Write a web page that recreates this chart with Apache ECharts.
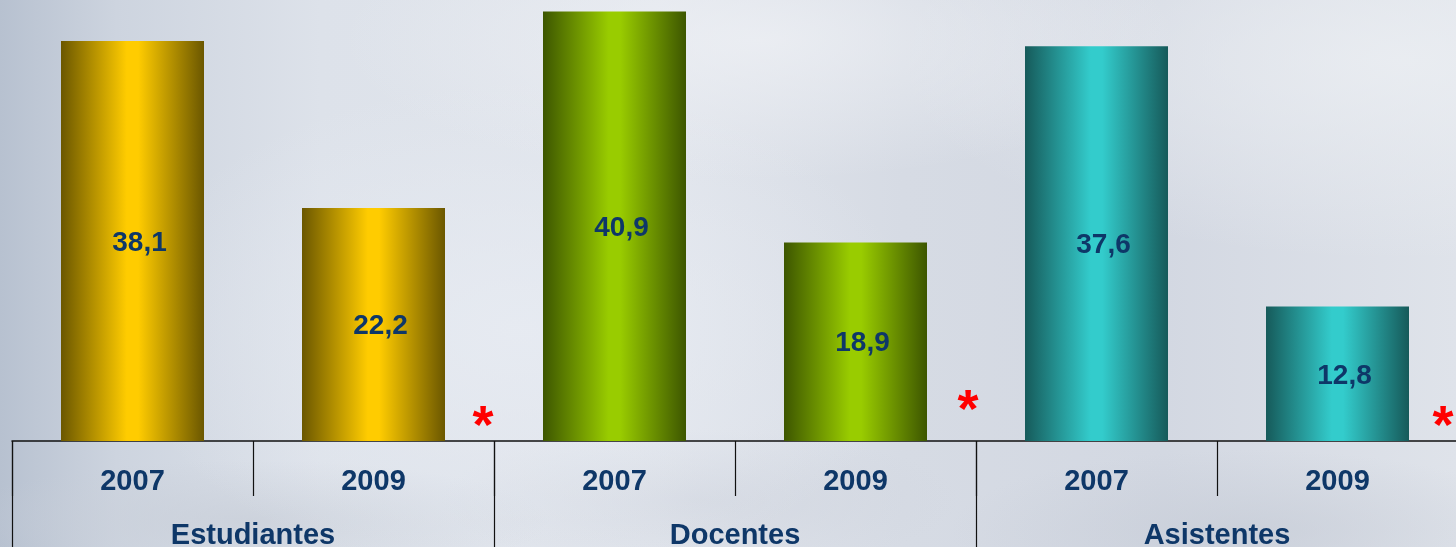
<!DOCTYPE html>
<html>
<head>
<meta charset="utf-8">
<script src="https://cdn.jsdelivr.net/npm/echarts@6/dist/echarts.min.js"></script>
<style>
  html, body { margin: 0; padding: 0; }
  body {
    width: 1456px; height: 547px; overflow: hidden;
    background:
      radial-gradient(ellipse 420px 140px at 760px 40px, rgba(240,242,246,0.7), rgba(240,242,246,0) 100%),
      radial-gradient(ellipse 500px 200px at 1400px 60px, rgba(236,239,243,0.8), rgba(236,239,243,0) 100%),
      radial-gradient(ellipse 400px 250px at 520px 330px, rgba(232,236,243,0.8), rgba(232,236,243,0) 100%),
      radial-gradient(ellipse 300px 60px at 250px 520px, rgba(200,206,216,0.7), rgba(200,206,216,0) 100%),
      radial-gradient(ellipse 260px 70px at 700px 500px, rgba(205,210,220,0.6), rgba(205,210,220,0) 100%),
      radial-gradient(ellipse 300px 80px at 1250px 530px, rgba(195,201,212,0.6), rgba(195,201,212,0) 100%),
      linear-gradient(to right, #b7c1d0 0%, #cdd4df 8%, #dde2ea 22%, #e1e5ec 45%, #d6dbe4 62%, #d3d8e2 80%, #dfe3ea 100%);
  }
  #chart { width: 1456px; height: 547px; }
</style>
</head>
<body>
<div id="chart"></div>
<script>
// ---- data ----
const groups = ['Estudiantes', 'Docentes', 'Asistentes'];
const years = ['2007', '2009'];
const values = [38.1, 22.2, 40.9, 18.9, 37.6, 12.8];
const groupDark = ['#6b5700', '#3d5600', '#165a5a'];
const groupBright = ['#ffcc00', '#99cc00', '#33cccc'];
const asterisk = '*';

const yearCats = [];
groups.forEach(() => years.forEach(y => yearCats.push(y)));

function grad(i) {
  return {
    type: 'linear', x: 0, y: 0, x2: 1, y2: 0,
    colorStops: [
      { offset: 0, color: groupDark[i] },
      { offset: 0.46, color: groupBright[i] },
      { offset: 0.54, color: groupBright[i] },
      { offset: 1, color: groupDark[i] }
    ]
  };
}

const barData = values.map((v, k) => ({
  value: v,
  itemStyle: { color: grad(Math.floor(k / years.length)) }
}));

const FONT = '"Liberation Sans", Arial, sans-serif';
const NAVY = '#0e3768';

const chart = echarts.init(document.getElementById('chart'), null, { renderer: 'canvas' });
chart.setOption({
  backgroundColor: 'transparent',
  animation: false,
  grid: { left: 12, top: 0, width: 1446, bottom: 106, containLabel: false, outerBoundsMode: 'none' },
  xAxis: [
    {
      type: 'category', data: yearCats, position: 'bottom',
      axisLine: { show: true, lineStyle: { color: '#111', width: 1.5 } },
      axisTick: { show: true, length: 55, interval: 0, lineStyle: { color: '#111', width: 1.2 } },
      axisLabel: { interval: 0, margin: 26, color: NAVY, fontSize: 29, fontWeight: 'bold', fontFamily: FONT }
    },
    {
      type: 'category', data: groups, position: 'bottom',
      axisLine: { show: false },
      axisTick: { show: true, length: 130, interval: 0, lineStyle: { color: '#111', width: 1.2 } },
      axisLabel: { interval: 0, margin: 80, color: NAVY, fontSize: 29, fontWeight: 'bold', fontFamily: FONT }
    }
  ],
  yAxis: { type: 'value', min: 0, max: 42, show: false, splitLine: { show: false } },
  series: [{
    type: 'bar', xAxisIndex: 0, data: barData, barWidth: 143,
    label: {
      show: true, position: 'inside', offset: [7, 2],
      color: NAVY, fontSize: 28, fontWeight: 'bold', fontFamily: FONT,
      formatter: p => String(p.value).replace('.', ',')
    }
  }],
  graphic: [
    { type: 'text', x: 483, y: 428, style: { text: asterisk, fill: '#ff0000', font: 'bold 54px ' + FONT, textAlign: 'center', textVerticalAlign: 'middle' } },
    { type: 'text', x: 968, y: 412, style: { text: asterisk, fill: '#ff0000', font: 'bold 54px ' + FONT, textAlign: 'center', textVerticalAlign: 'middle' } },
    { type: 'text', x: 1443, y: 428, style: { text: asterisk, fill: '#ff0000', font: 'bold 54px ' + FONT, textAlign: 'center', textVerticalAlign: 'middle' } }
  ]
});
</script>
</body>
</html>
